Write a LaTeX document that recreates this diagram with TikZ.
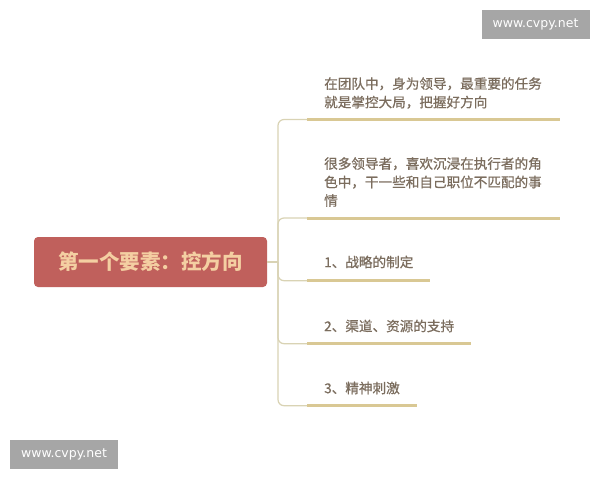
\documentclass[tikz,border=0pt]{standalone}
\usepackage{fontspec}
\newfontfamily\cjk{Noto Sans CJK SC}
\newfontfamily\cjkm{Noto Sans CJK SC}[FakeBold=0.7]
\newfontfamily\wm{DejaVu Sans}
\begin{document}
\begin{tikzpicture}[x=1pt,y=-1pt,
  rootbox/.style={draw=none,fill=rootred,rounded corners=4pt,minimum width=233pt,minimum height=50pt,inner sep=0pt,
    font=\cjk\bfseries\fontsize{20.5}{24}\selectfont,text=roottext},
  leaf/.style={anchor=west,inner sep=0pt,align=left,text=leaftext,font=\cjkm\fontsize{13.6}{18.5}\selectfont},
  thinline/.style={draw=thincol,line width=1.2pt,rounded corners=6pt},
  thickline/.style={draw=thickcol,line width=3pt},
  wmbox/.style={fill=wmgray,minimum width=108pt,minimum height=29pt,inner sep=0pt,text=white,font=\wm\fontsize{12.5}{14}\selectfont}]
\definecolor{rootred}{HTML}{C0605C}
\definecolor{roottext}{HTML}{F4CFA2}
\definecolor{leaftext}{HTML}{7B6D5E}
\definecolor{thincol}{HTML}{D9D3B4}
\definecolor{thickcol}{HTML}{D9C894}
\definecolor{wmgray}{HTML}{A6A6A6}
\useasboundingbox (0,0) rectangle (600,480);
\fill[white] (0,0) rectangle (600,480);

\node[rootbox] (root) at (150.5,262) {第一个要素：控方向};
\coordinate (hub) at (278,262);
\draw[thincol,line width=1.2pt] (root.east) -- (hub);

% leaf texts
\node[leaf] (t1) at (324,93) {在团队中，身为领导，最重要的任务\\就是掌控大局，把握好方向};
\node[leaf] (t2) at (324,182) {很多领导者，喜欢沉浸在执行者的角\\色中，干一些和自己职位不匹配的事\\情};
\node[leaf] (t3) at (324,262) {1、战略的制定};
\node[leaf] (t4) at (324,326) {2、渠道、资源的支持};
\node[leaf] (t5) at (324,388) {3、精神刺激};

% branch coordinates
\coordinate (s1) at (307,119.5); \coordinate (e1) at (560,119.5);
\coordinate (s2) at (307,218);   \coordinate (e2) at (560,218);
\coordinate (s3) at (307,280.7); \coordinate (e3) at (430,280.7);
\coordinate (s4) at (307,343.7); \coordinate (e4) at (471,343.7);
\coordinate (s5) at (307,405.7); \coordinate (e5) at (417,405.7);

\foreach \i in {1,...,5}{
  \draw[thinline] (hub) |- (s\i);
  \draw[thickline] (s\i) -- (e\i);
}

% watermarks
\node[wmbox] (wm1) at (535.5,24.5) {www.cvpy.net};
\node[wmbox] (wm2) at (64,454.5) {www.cvpy.net};
\end{tikzpicture}
\end{document}
